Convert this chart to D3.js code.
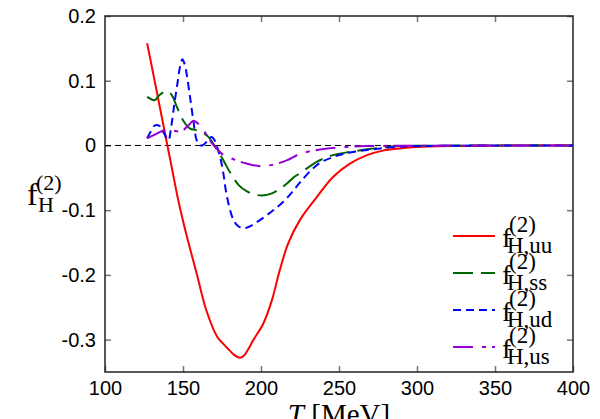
<!DOCTYPE html>
<html>
<head>
<meta charset="utf-8">
<script src="https://cdn.jsdelivr.net/npm/d3@7"></script>
<style>
  body { margin: 0; background: #fff; }
  svg { display: block; }
</style>
</head>
<body>
<svg id="chart"></svg>
<script>
(function() {

// temperature grids (MeV) and values
const uuT = [127, 130, 135, 140, 142, 147, 152, 159, 165, 172, 176, 180, 183, 186.5, 189, 192, 195, 201.5, 207, 212, 217.5, 225, 236, 246, 257, 268, 278, 289, 300, 320, 350, 400];
const uuF = [0.158, 0.122, 0.061, 0.0, -0.024, -0.085, -0.136, -0.2, -0.255, -0.296, -0.307, -0.317, -0.324, -0.328, -0.325, -0.314, -0.301, -0.275, -0.239, -0.193, -0.151, -0.115, -0.079, -0.049, -0.028, -0.015, -0.008, -0.0047, -0.0025, -0.001, -0.0003, 0];

const ssT = [127, 130, 132, 135, 140, 143, 146, 150, 154.5, 158, 160, 163, 165, 168, 170.5, 174, 177, 182, 186, 191, 196, 202, 207, 212, 217, 221, 225, 236, 246, 257, 268, 289, 320, 400];
const ssF = [0.075, 0.071, 0.070, 0.078, 0.084, 0.077, 0.060, 0.039, 0.026, 0.024, 0.022, 0.019, 0.016, 0.008, -0.002, -0.015, -0.028, -0.049, -0.062, -0.071, -0.076, -0.077, -0.074, -0.067, -0.058, -0.049, -0.043, -0.025, -0.015, -0.010, -0.006, -0.001, -0.0003, 0];

const udT = [127, 129.5, 132, 135, 138, 140.6, 142.5, 144.5, 146.5, 148.3, 149.6, 151, 152.5, 154.5, 156.6, 158.8, 161, 163, 166, 168.4, 170, 171.6, 174, 176, 178, 182, 185, 188.7, 192, 197, 203.6, 209, 214.3, 220, 225, 236, 246, 257, 268, 289, 320, 400];
const udF = [0.011, 0.022, 0.031, 0.030, 0.018, 0.008, 0.030, 0.065, 0.097, 0.124, 0.133, 0.126, 0.108, 0.075, 0.039, 0.008, 0.0, 0.001, 0.008, 0.013, 0.009, 0.0, -0.020, -0.045, -0.077, -0.113, -0.124, -0.128, -0.126, -0.119, -0.108, -0.098, -0.087, -0.072, -0.057, -0.030, -0.018, -0.011, -0.007, -0.002, -0.0005, 0];

const usT = [127, 133, 138.5, 143, 149, 153, 156.6, 159, 163, 166, 168.4, 171, 175, 182, 190.8, 199.4, 207, 216.5, 225, 236, 246, 257, 268, 289, 400];
const usF = [0.011, 0.018, 0.024, 0.023, 0.022, 0.030, 0.038, 0.035, 0.024, 0.013, 0.004, -0.003, -0.013, -0.021, -0.028, -0.032, -0.030, -0.023, -0.013, -0.007, -0.004, -0.002, -0.001, -0.0005, 0];

const seriesSubs = ["H,uu", "H,ss", "H,ud", "H,us"];
const xTicks = [100, 150, 200, 250, 300, 350, 400];
const yTicks = [-0.3, -0.2, -0.1, 0, 0.1, 0.2];

const colors = ["#ff0000", "#006400", "#0000ff", "#9400d3"];
const dashes = ["none", "20,8", "8,5", "20,9,4,6"];

const W = 600, H = 419;
const plot = { left: 105, right: 573, top: 16, bottom: 372 };

const svg = d3.select("#chart").attr("width", W).attr("height", H);

const x = d3.scaleLinear().domain([100, 400]).range([plot.left, plot.right]);
const y = d3.scaleLinear().domain([-0.35, 0.2]).range([plot.bottom, plot.top]);

const series = [
  d3.zip(uuT, uuF),
  d3.zip(ssT, ssF),
  d3.zip(udT, udF),
  d3.zip(usT, usF),
];

const tickFont = "'Liberation Sans', Arial, sans-serif";
const serif = "'Liberation Serif', 'Times New Roman', serif";

// axes (ticks point inward, mirrored on top/right)
function styleAxis(g) {
  g.select(".domain").remove();
  g.selectAll(".tick line").attr("stroke", "#777").attr("stroke-width", 1.5);
  g.selectAll(".tick text").attr("fill", "#000")
    .style("font-family", tickFont).style("font-size", "20px");
}

svg.append("g")
  .attr("transform", `translate(0,${plot.bottom})`)
  .call(d3.axisBottom(x).tickValues(xTicks).tickSizeInner(-6).tickSizeOuter(0).tickPadding(9))
  .call(styleAxis);

svg.append("g")
  .attr("transform", `translate(0,${plot.top})`)
  .call(d3.axisTop(x).tickValues(xTicks.slice(1, -1)).tickSizeInner(-6).tickSizeOuter(0).tickFormat(""))
  .call(styleAxis);

svg.append("g")
  .attr("transform", `translate(${plot.left},0)`)
  .call(d3.axisLeft(y).tickValues(yTicks).tickSizeInner(-6).tickSizeOuter(0).tickPadding(9)
    .tickFormat(d => String(Math.round(d * 10) / 10)))
  .call(styleAxis);

svg.append("g")
  .attr("transform", `translate(${plot.right},0)`)
  .call(d3.axisRight(y).tickValues(yTicks).tickSizeInner(-6).tickSizeOuter(0).tickFormat(""))
  .call(styleAxis);

// frame
svg.append("rect")
  .attr("x", plot.left).attr("y", plot.top)
  .attr("width", plot.right - plot.left).attr("height", plot.bottom - plot.top)
  .attr("fill", "none").attr("stroke", "#222").attr("stroke-width", 1.5);

// zero line
svg.append("line")
  .attr("x1", plot.left).attr("x2", plot.right)
  .attr("y1", y(0)).attr("y2", y(0))
  .attr("stroke", "#000").attr("stroke-width", 1)
  .attr("stroke-dasharray", "6,4");

const line = d3.line()
  .x(d => x(d[0]))
  .y(d => y(d[1]))
  .curve(d3.curveCatmullRom.alpha(0.5));

series.forEach((s, i) => {
  svg.append("path")
    .datum(s)
    .attr("fill", "none")
    .attr("stroke", colors[i])
    .attr("stroke-width", 2)
    .attr("stroke-dasharray", dashes[i])
    .attr("d", line);
});

// legend
const legY0 = 236, legStep = 37;
seriesSubs.forEach((sub, i) => {
  const ly = legY0 + i * legStep;
  svg.append("line")
    .attr("x1", 453).attr("x2", 495)
    .attr("y1", ly).attr("y2", ly)
    .attr("stroke", colors[i]).attr("stroke-width", 2)
    .attr("stroke-dasharray", dashes[i]);
  const t = svg.append("g").style("font-family", serif).attr("fill", "#000");
  t.append("text").attr("x", 502).attr("y", ly + 11).style("font-size", "28px").text("f");
  t.append("text").attr("x", 509).attr("y", ly - 4).style("font-size", "23px").text("(2)");
  t.append("text").attr("x", 507).attr("y", ly + 17).style("font-size", "23px").text(sub);
});

// y label
const yl = svg.append("g").style("font-family", serif).attr("fill", "#000");
yl.append("text").attr("x", 27).attr("y", 205).style("font-size", "32px").text("f");
yl.append("text").attr("x", 36).attr("y", 190).style("font-size", "22px").text("(2)");
yl.append("text").attr("x", 38).attr("y", 212).style("font-size", "22px").text("H");

// x label
const xl = svg.append("text")
  .attr("x", (plot.left + plot.right) / 2).attr("y", 424)
  .attr("text-anchor", "middle")
  .style("font-family", serif).style("font-size", "29px");
xl.append("tspan").style("font-style", "italic").text("T");
xl.append("tspan").text(" [MeV]");

})();
</script>
</body>
</html>
